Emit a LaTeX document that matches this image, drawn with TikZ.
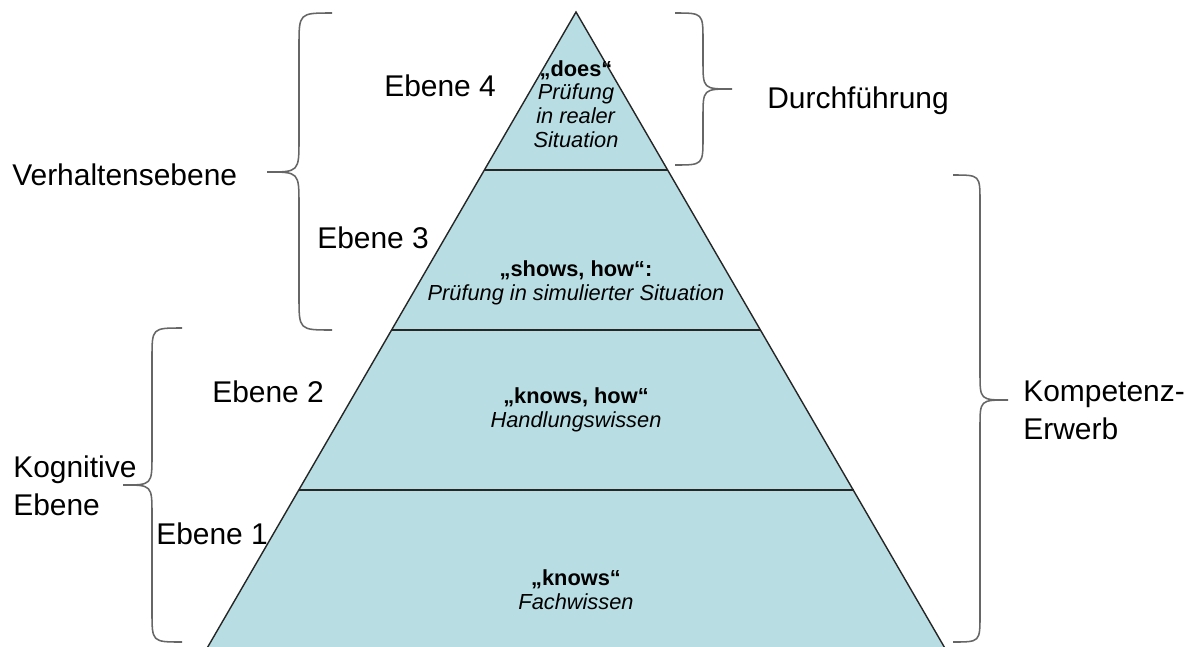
\documentclass[tikz,border=0pt]{standalone}
\usepackage{fontspec}
\setmainfont{Liberation Sans}
\definecolor{pyramide}{RGB}{184,222,228}
\tikzset{
  seite/.style={font=\fontsize{21.3}{27}\selectfont, inner sep=0pt, align=left},
  stufe/.style={font=\fontsize{15.5}{16.8}\selectfont, inner sep=0pt, align=center},
  klammer/.style={color=black!60, line width=1.1pt},
}
\begin{document}
\begin{tikzpicture}[x=0.025cm,y=-0.025cm]
\useasboundingbox (0,0) rectangle (1195,646);

% The pyramid itself
\fill[color=pyramide] (576,12) -- (946,650) -- (206,650) -- cycle;
\draw[color=black!85, line width=1pt] (206,650) -- (576,12) -- (946,650);

% The levels
\draw[color=black!85, line width=1pt] (484.3,170) -- (667.7,170);
\draw[color=black!85, line width=1pt] (391.4,330) -- (760.6,330);
\draw[color=black!85, line width=1pt] (298.5,490) -- (853.5,490);

% The texts in the pyramid
\node[stufe, anchor=base] (does) at (576,147)
  {\textbf{„does“}\\ \textit{Prüfung}\\ \textit{in realer}\\ \textit{Situation}};
\node[stufe, anchor=base] (shows) at (576,300)
  {\textbf{„shows, how“:}\\ \textit{Prüfung in simulierter Situation}};
\node[stufe, anchor=base] (knowshow) at (576,427)
  {\textbf{„knows, how“}\\ \textit{Handlungswissen}};
\node[stufe, anchor=base] (knows) at (576,609)
  {\textbf{„knows“}\\ \textit{Fachwissen}};

% The level labels
\node[seite, anchor=base west] (ebene4) at (384,96) {Ebene 4};
\node[seite, anchor=base west] (ebene3) at (317,248) {Ebene 3};
\node[seite, anchor=base west] (ebene2) at (212,402) {Ebene 2};
\node[seite, anchor=base west] (ebene1) at (156,544) {Ebene 1};

% The braces
\draw[klammer] (332,13) .. controls (299,13) .. (299,46) -- (299,139)
  .. controls (299,172) .. (267,172) .. controls (299,172) .. (299,205)
  -- (299,297) .. controls (299,330) .. (332,330);
\draw[klammer] (182,328) .. controls (152,328) .. (152,358) -- (152,455)
  .. controls (152,485) .. (123,485) .. controls (152,485) .. (152,515)
  -- (152,612) .. controls (152,642) .. (182,642);
\draw[klammer] (675,13) .. controls (703,13) .. (703,41) -- (703,61)
  .. controls (703,89) .. (732,89) .. controls (703,89) .. (703,117)
  -- (703,137) .. controls (703,165) .. (675,165);
\draw[klammer] (953,175) .. controls (980,175) .. (980,202) -- (980,373)
  .. controls (980,400) .. (1008,400) .. controls (980,400) .. (980,427)
  -- (980,615) .. controls (980,642) .. (953,642);

% The brace labels
\node[seite, anchor=base west] (verhalten) at (12,185) {Verhaltensebene};
\node[seite, anchor=base west] (kognitiv) at (13,515) {Kognitive\\ Ebene};
\node[seite, anchor=base west] (durchf) at (767,108) {Durchführung};
\node[seite, anchor=base west] (kompetenz) at (1023,439) {Kompetenz-\\ Erwerb};

\end{tikzpicture}
\end{document}
